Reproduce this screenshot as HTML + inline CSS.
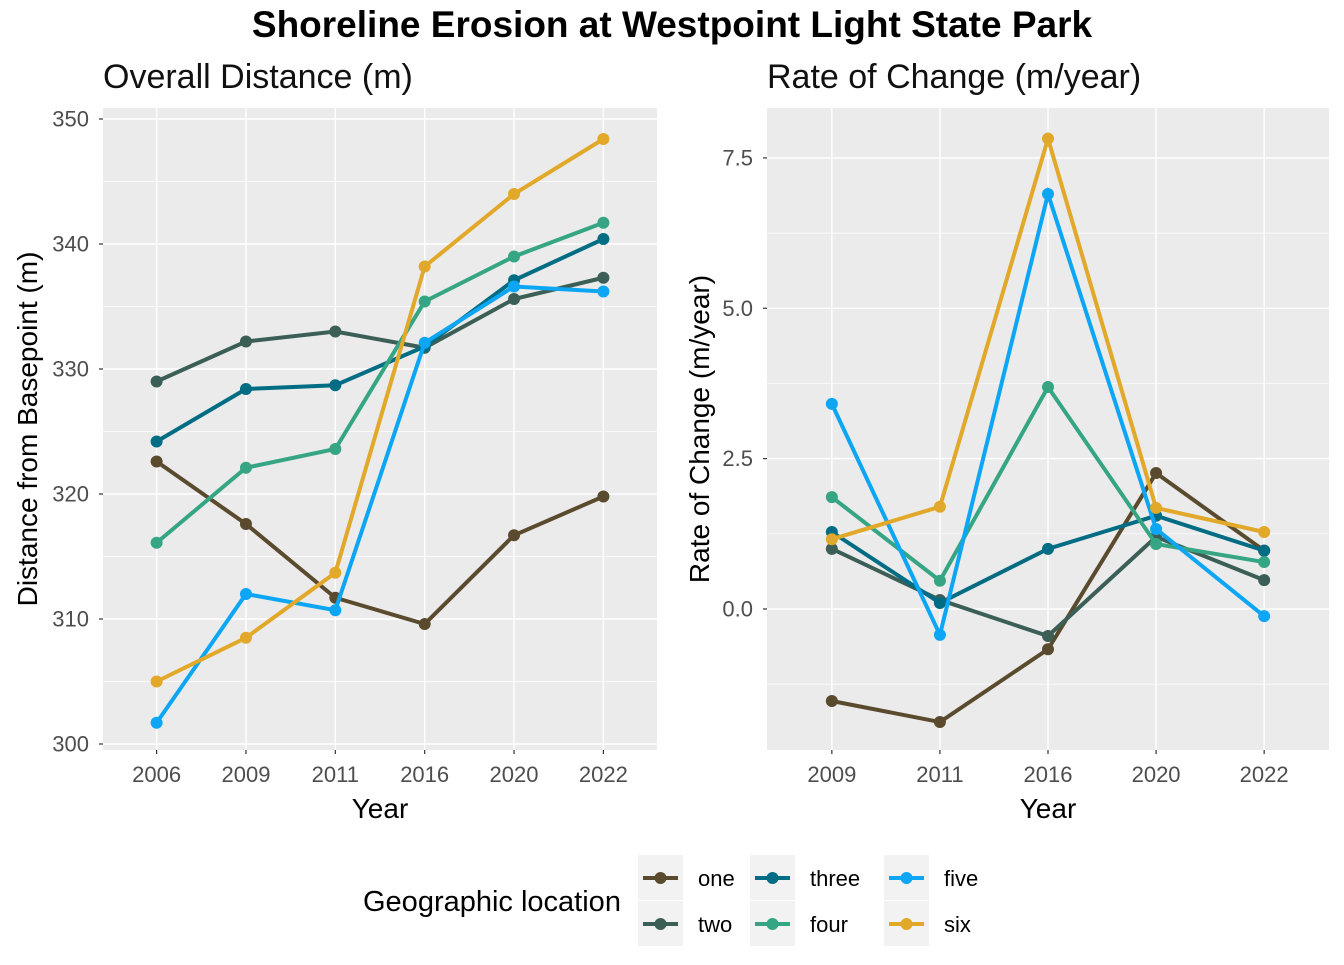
<!DOCTYPE html>
<html><head><meta charset="utf-8"><style>
body{margin:0;background:#fff;font-family:"Liberation Sans",sans-serif}
</style></head><body>
<svg id="c" width="1344" height="960" xmlns="http://www.w3.org/2000/svg" font-family="Liberation Sans, sans-serif">
<text x="672" y="37" text-anchor="middle" font-size="37" font-weight="bold">Shoreline Erosion at Westpoint Light State Park</text>
<text x="103" y="88" font-size="34" fill="#111">Overall Distance (m)</text>
<text x="767" y="88" font-size="34" fill="#111">Rate of Change (m/year)</text>
<g id="L"></g><g id="R"></g><g id="leg"></g>
</svg>
<script>
const NS="http://www.w3.org/2000/svg";
const seriesNames=["one","two","three","four","five","six"];
const colors=["#5a4a2e","#3b5e56","#006d84","#35a584","#0ca6f5","#e2a82a"];
const yearsLeft=["2006","2009","2011","2016","2020","2022"];
const yearsRight=["2009","2011","2016","2020","2022"];
const distOne=[322.6,317.6,311.7,309.6,316.7,319.8];
const distTwo=[329.0,332.2,333.0,331.7,335.6,337.3];
const distThree=[324.2,328.4,328.7,331.8,337.1,340.4];
const distFour=[316.1,322.1,323.6,335.4,339.0,341.7];
const distFive=[301.7,312.0,310.7,332.1,336.6,336.2];
const distSix=[305.0,308.5,313.7,338.2,344.0,348.4];
const rateOne=[-1.53,-1.88,-0.67,2.26,0.97];
const rateTwo=[1.0,0.15,-0.45,1.2,0.48];
const rateThree=[1.28,0.1,1.0,1.55,0.97];
const rateFour=[1.86,0.47,3.69,1.08,0.78];
const rateFive=[3.41,-0.43,6.9,1.33,-0.12];
const rateSix=[1.16,1.7,7.82,1.68,1.28];
const leftTicks=[300,310,320,330,340,350];
const rightTicks=[0,2.5,5,7.5];
function el(p,t,a){const e=document.createElementNS(NS,t);for(const k in a)e.setAttribute(k,a[k]);p.appendChild(e);return e;}
function panel(g,cats,series,ticks,fmt,x0,x1,yTop,yBot,ymin,ymax,ytitle,nm,ytx){
 const bg=el(g,"rect",{x:x0,y:yTop,width:x1-x0,height:yBot-yTop,fill:"#ebebeb"});
 
 const ys=v=>yBot-(v-ymin)/(ymax-ymin)*(yBot-yTop);
 const n=cats.length,step=(x1-x0)/(n+0.2);
 const xs=i=>x0+step*(0.6+i);
 const st=ticks[1]-ticks[0];
 for(let v=ticks[0]-st/2;v<=ymax;v+=st){if(v>=ymin)el(g,"line",{x1:x0,x2:x1,y1:ys(v),y2:ys(v),stroke:"#fff","stroke-width":0.7});}
 ticks.forEach(v=>{el(g,"line",{x1:x0,x2:x1,y1:ys(v),y2:ys(v),stroke:"#fff","stroke-width":1.4});
  el(g,"line",{x1:x0-4,x2:x0,y1:ys(v),y2:ys(v),stroke:"#333","stroke-width":1.2});
  const t=el(g,"text",{x:x0-14,y:ys(v)+7.5,"text-anchor":"end","font-size":22,fill:"#4d4d4d"});t.textContent=fmt(v);
  });
 cats.forEach((c,i)=>{el(g,"line",{x1:xs(i),x2:xs(i),y1:yTop,y2:yBot,stroke:"#fff","stroke-width":1.4});
  el(g,"line",{x1:xs(i),x2:xs(i),y1:yBot,y2:yBot+4,stroke:"#333","stroke-width":1.2});
  const t=el(g,"text",{x:xs(i),y:yBot+32,"text-anchor":"middle","font-size":22,fill:"#4d4d4d"});t.textContent=c;
  });
 series.forEach((s,k)=>{
  const pts=s.map((v,i)=>xs(i)+","+ys(v)).join(" ");
  const l=el(g,"polyline",{points:pts,fill:"none",stroke:colors[k],"stroke-width":4});
  
  s.forEach((v,i)=>{const c=el(g,"circle",{cx:xs(i),cy:ys(v),r:6,fill:colors[k]});
   });
 });
 const xt=el(g,"text",{x:(x0+x1)/2,y:yBot+68,"text-anchor":"middle","font-size":28});xt.textContent="Year";
 
 const cy=(yTop+yBot)/2, cx=ytx;
 const yt=el(g,"text",{x:cx,y:cy,"text-anchor":"middle","font-size":28,transform:`rotate(-90 ${cx} ${cy})`});yt.textContent=ytitle;
 
}
panel(document.getElementById("L"),yearsLeft,[distOne,distTwo,distThree,distFour,distFive,distSix],leftTicks,v=>String(v),103,657,108,750,299.52,350.88,"Distance from Basepoint (m)","left",37);
panel(document.getElementById("R"),yearsRight,[rateOne,rateTwo,rateThree,rateFour,rateFive,rateSix],rightTicks,v=>v.toFixed(1),767,1329,108,750,-2.345,8.33,"Rate of Change (m/year)","right",709);
const leg=document.getElementById("leg");
const lt=el(leg,"text",{x:363,y:911,"font-size":29});lt.textContent="Geographic location";

const colX=[638,750,884],rowY=[855,901];
seriesNames.forEach((n,k)=>{
 const c=Math.floor(k/2),r=k%2,x=colX[c],y=rowY[r];
 const g=el(leg,"g",{});
 el(g,"rect",{x:x,y:y,width:45,height:45,fill:"#f2f2f2"});
 el(g,"line",{x1:x+5,x2:x+40,y1:y+23,y2:y+23,stroke:colors[k],"stroke-width":4});
 el(g,"circle",{cx:x+22.5,cy:y+23,r:6,fill:colors[k]});
 const t=el(g,"text",{x:x+60,y:y+31,"font-size":22});t.textContent=n;
});
</script>
</body></html>
